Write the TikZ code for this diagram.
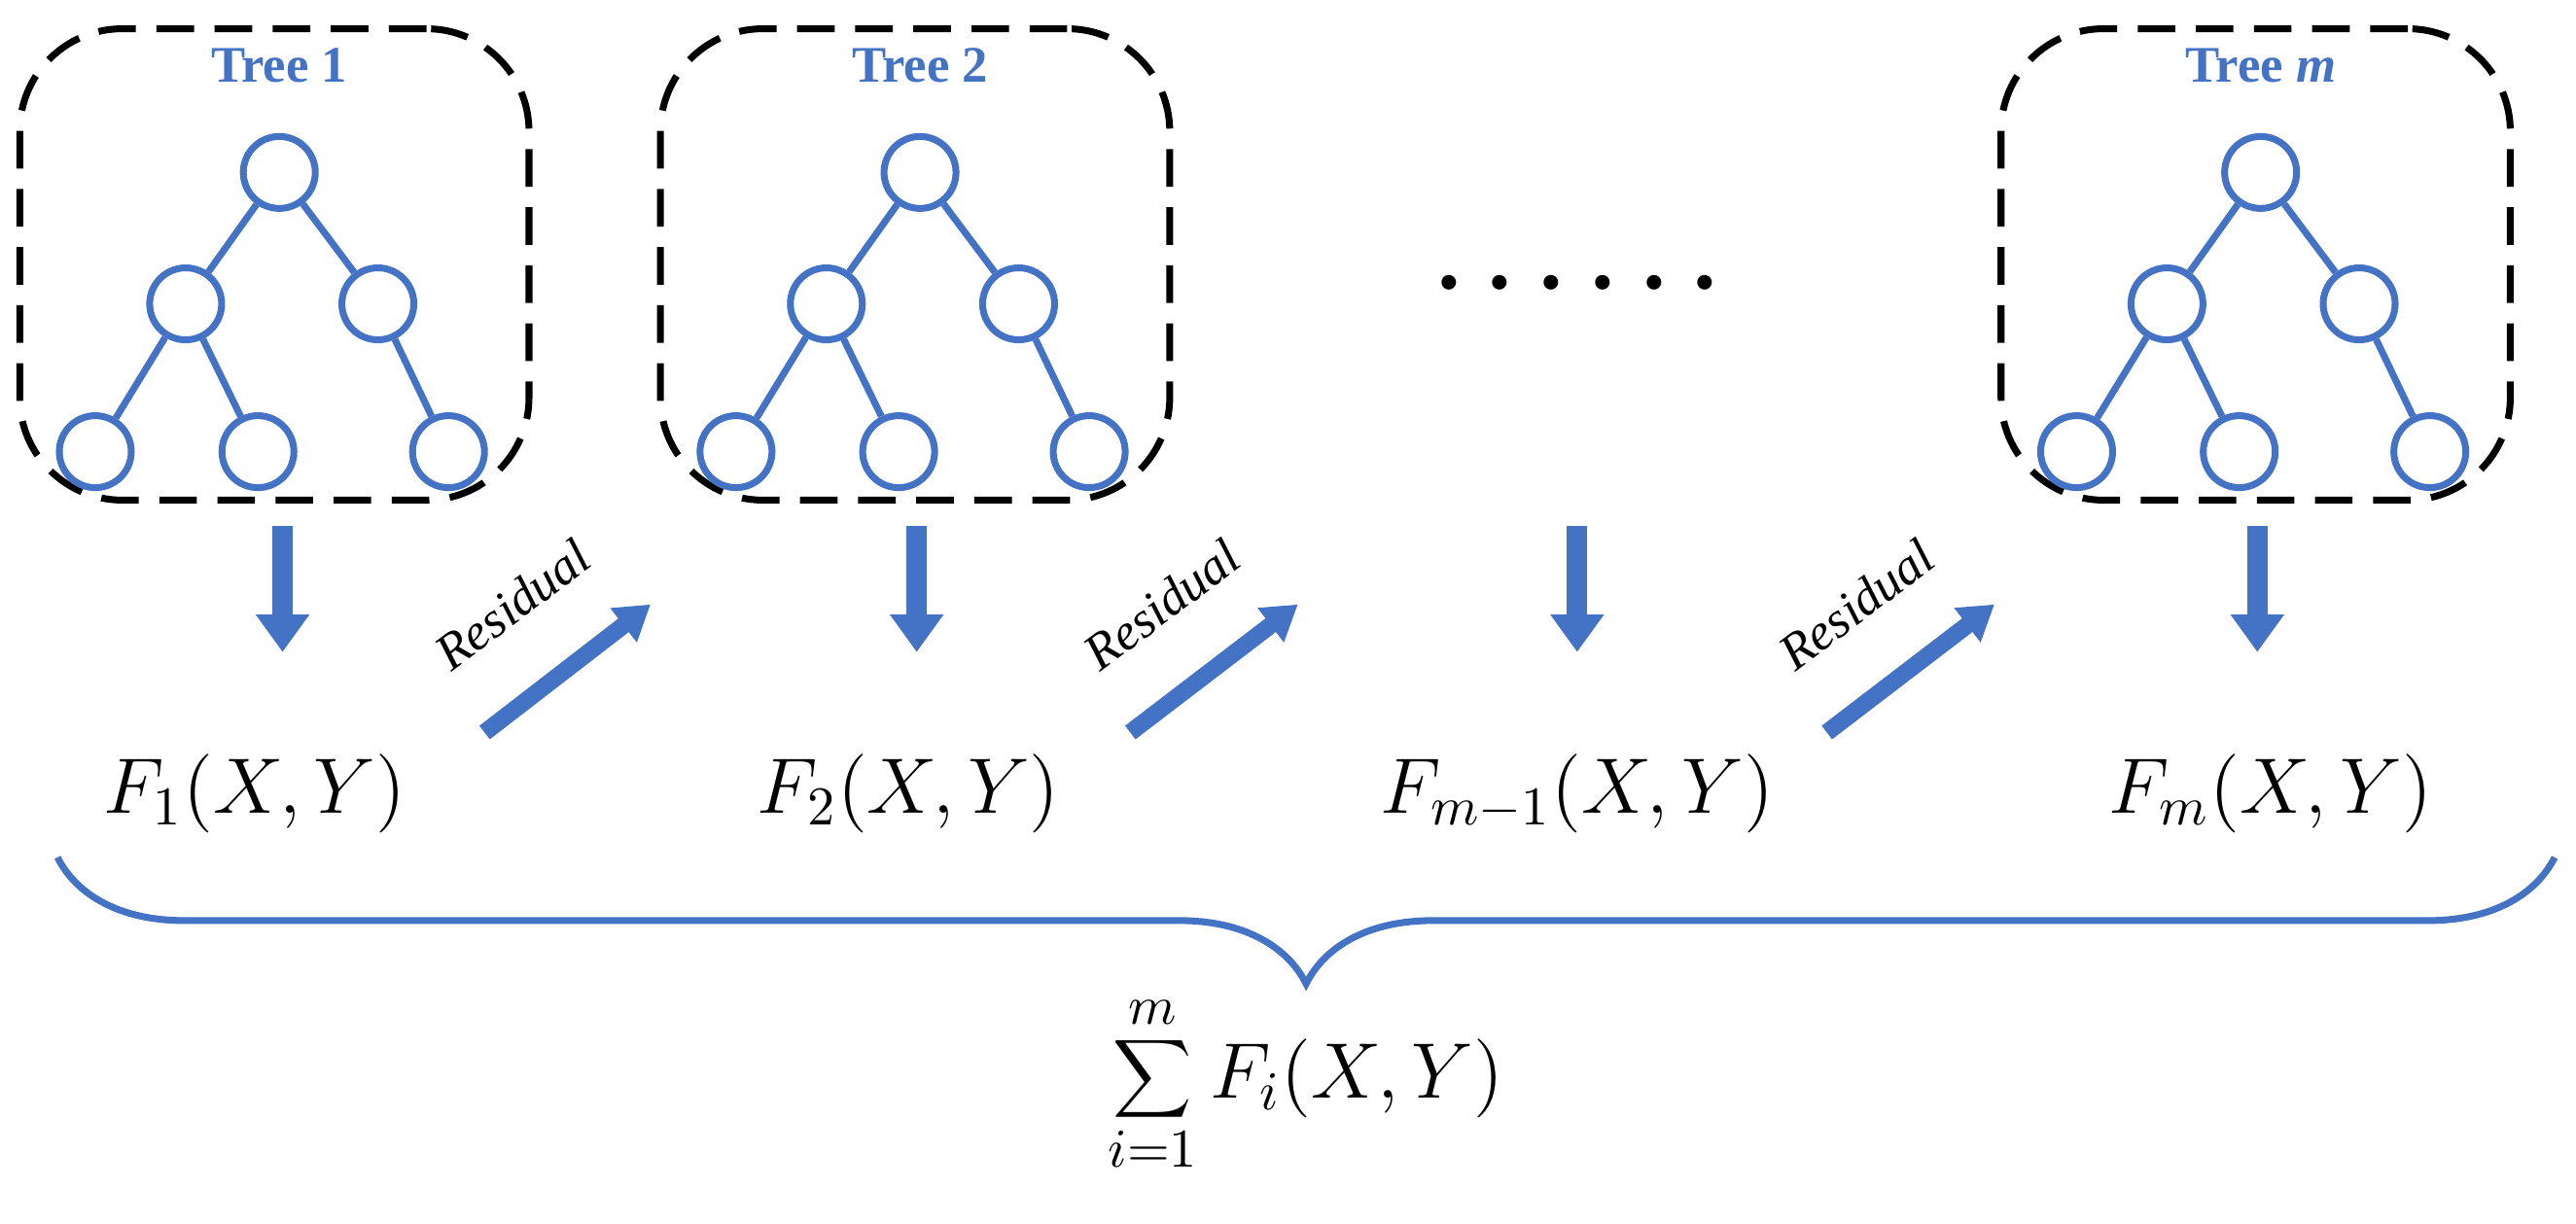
\documentclass[tikz,border=0pt]{standalone}
\usepackage{fontspec}
\setmainfont{Liberation Serif}
\usetikzlibrary{arrows.meta,decorations.pathreplacing}
\definecolor{tb}{HTML}{4472C4}
\tikzset{
 box/.style={draw=black,line width=2pt,dash pattern=on 11pt off 6pt,rounded corners=30pt},
 nd/.style={circle,draw=tb,line width=2pt,minimum size=0.74cm,inner sep=0pt},
 ed/.style={draw=tb,line width=2pt},
 title/.style={text=tb,font=\fontsize{15}{17}\selectfont\bfseries},
 down/.style={draw=tb,line width=6pt,-{Triangle[width=15pt,length=11pt]}},
 res/.style={draw=tb,line width=5pt,-{Triangle[width=12pt,length=10pt]}},
 flab/.style={font=\Large,scale=1.6},
 rlab/.style={font=\fontsize{15}{17}\selectfont\itshape,rotate=37},
}
\newcommand\mytree[2]{%
 \node[nd] (#1r) at (#2,105) {};
 \node[nd] (#1a) at (#2-57,185) {};
 \node[nd] (#1b) at (#2+60,185) {};
 \node[nd] (#1c) at (#2-112,275) {};
 \node[nd] (#1d) at (#2-13,275) {};
 \node[nd] (#1e) at (#2+103,275) {};
 \draw[ed] (#1r) -- (#1a); \draw[ed] (#1r) -- (#1b);
 \draw[ed] (#1a) -- (#1c); \draw[ed] (#1a) -- (#1d);
 \draw[ed] (#1b) -- (#1e);}
\begin{document}
\begin{tikzpicture}[x=0.01689cm,y=-0.01689cm]
\useasboundingbox (0,0) rectangle (1568,745);
\node[box,minimum width=310*0.01689cm,minimum height=287*0.01689cm] (b1) at (167,161) {};
\node[box,minimum width=310*0.01689cm,minimum height=287*0.01689cm] (b2) at (557,161) {};
\node[box,minimum width=310*0.01689cm,minimum height=287*0.01689cm] (b3) at (1373,161) {};
\node[title] (t1) at (170,40) {Tree 1};
\node[title] (t2) at (560,40) {Tree 2};
\node[title] (t3) at (1376,40) {Tree \textit{m}};
\mytree{p}{170}
\mytree{q}{560}
\mytree{s}{1376}
\node[font=\fontsize{36}{36}\selectfont] (dots) at (960,172) {.\,.\,.\,.\,.\,.};
\node[flab] (f1) at (155,482) {$F_1\Bigl(X,Y\Bigr)$};
\node[flab] (f2) at (553,482) {$F_2\Bigl(X,Y\Bigr)$};
\node[flab] (f3) at (960,482) {$F_{m-1}\Bigl(X,Y\Bigr)$};
\node[flab] (f4) at (1382,482) {$F_m\Bigl(X,Y\Bigr)$};
\coordinate (d1a) at (172,320); \coordinate (d1b) at (172,397);
\coordinate (d2a) at (558,320); \coordinate (d2b) at (558,397);
\coordinate (d3a) at (960,320); \coordinate (d3b) at (960,397);
\coordinate (d4a) at (1374,320); \coordinate (d4b) at (1374,397);
\draw[down] (d1a) -- (d1b); \draw[down] (d2a) -- (d2b);
\draw[down] (d3a) -- (d3b); \draw[down] (d4a) -- (d4b);
\coordinate (r1a) at (295,446); \coordinate (r1b) at (396,368);
\coordinate (r2a) at (688,446); \coordinate (r2b) at (790,368);
\coordinate (r3a) at (1112,446); \coordinate (r3b) at (1214,368);
\draw[res] (r1a) -- (r1b); \draw[res] (r2a) -- (r2b); \draw[res] (r3a) -- (r3b);
\node[rlab] (l1) at (312,368) {Residual};
\node[rlab] (l2) at (707,368) {Residual};
\node[rlab] (l3) at (1130,368) {Residual};
\coordinate (bra) at (35,522); \coordinate (brb) at (1555,522);
\draw[tb,line width=2pt,decorate,decoration={brace,mirror,amplitude=1.3cm}] (bra) -- (brb);
\node[flab] (sum) at (795,660) {$\displaystyle\sum_{i=1}^{m}F_i\Bigl(X,Y\Bigr)$};
\end{tikzpicture}
\end{document}
